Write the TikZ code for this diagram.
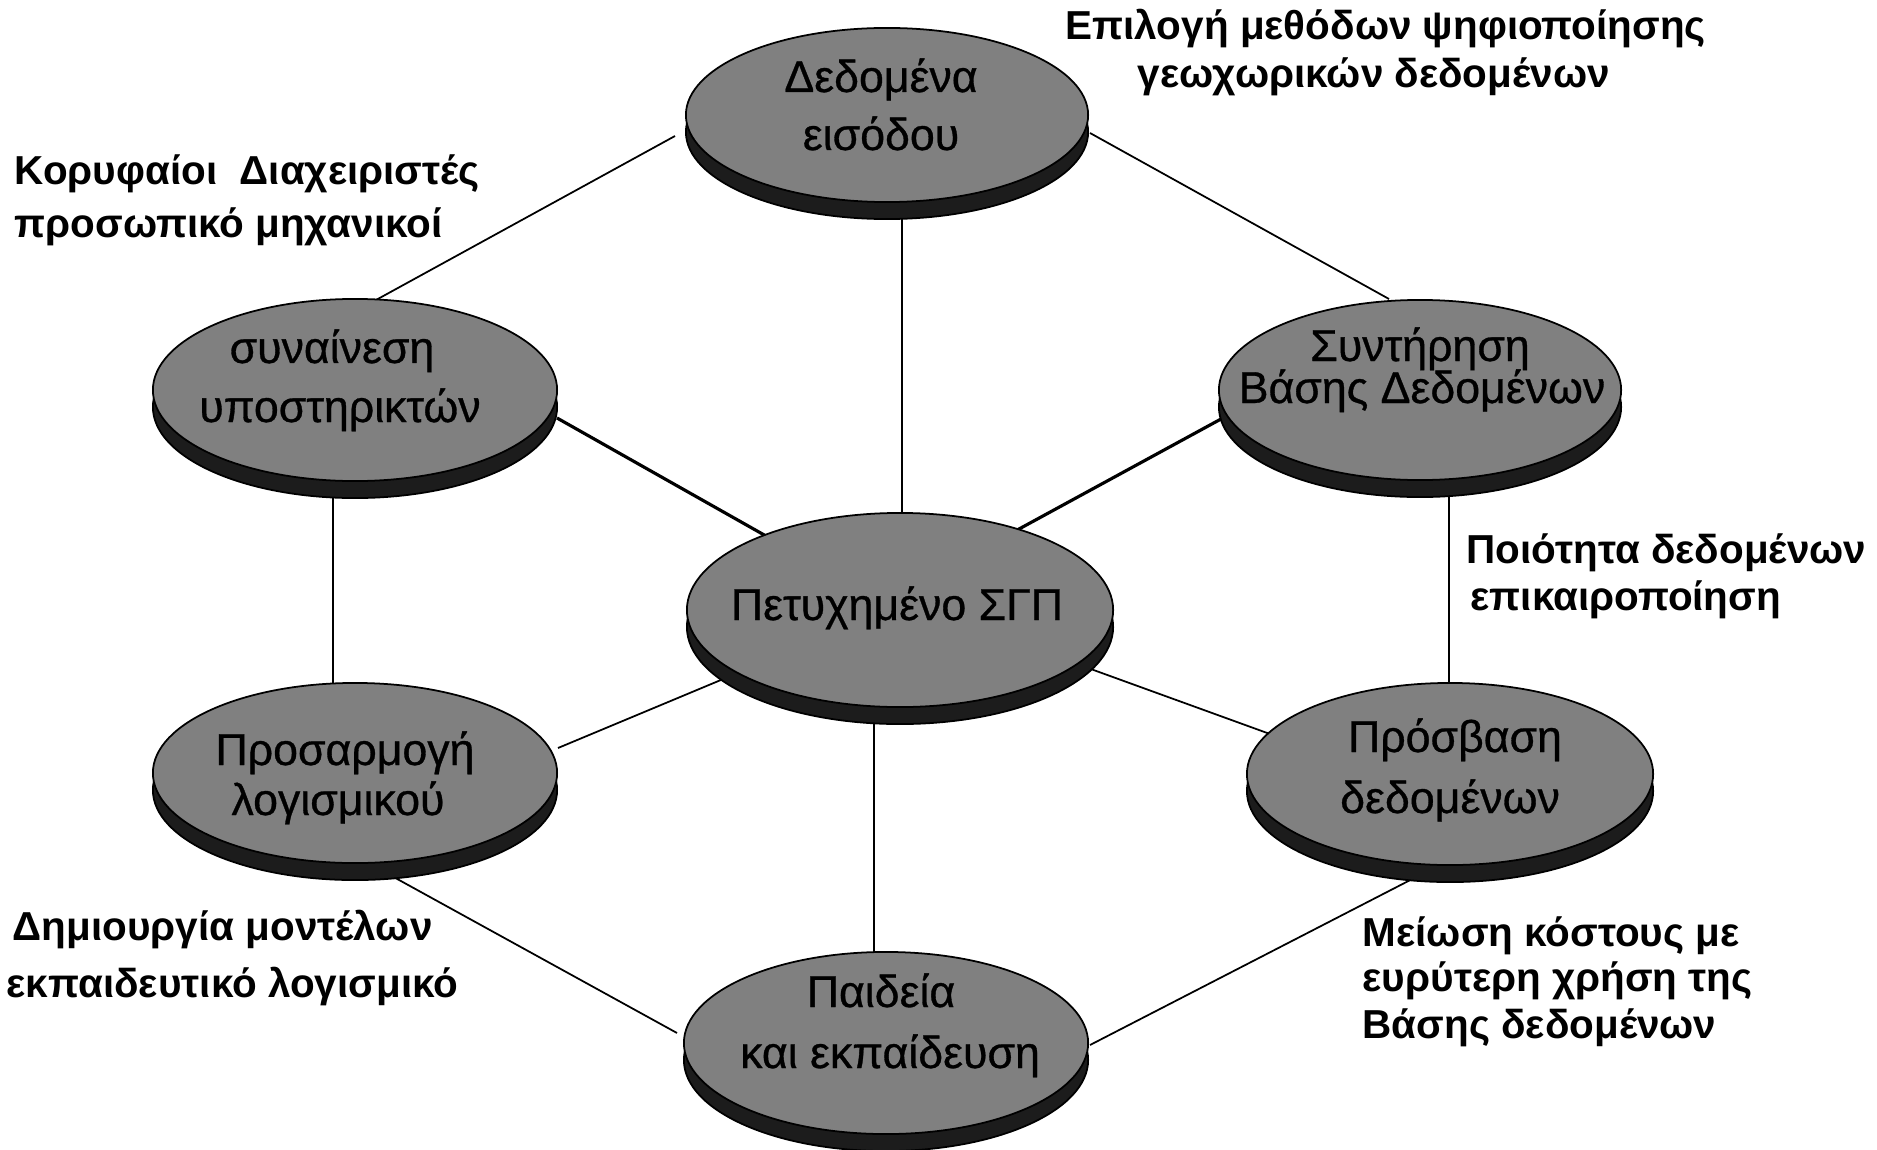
\documentclass[tikz,border=0pt]{standalone}
\usepackage{fontspec}
\setmainfont{Liberation Sans}
\newfontfamily\discfont{Liberation Sans}[FakeBold=0.7]
\usetikzlibrary{shapes.geometric,shadows}
\pgfdeclarelayer{background}
\pgfsetlayers{background,main}
\definecolor{discgrey}{HTML}{808080}
\definecolor{discshade}{HTML}{1C1C1C}
\tikzset{
  disc/.style={ellipse, draw=black, line width=0.5pt, fill=discgrey, inner sep=0pt,
    drop shadow={shadow xshift=0cm, shadow yshift=-0.17cm, fill=discshade, draw=black, opacity=1}},
  disctext/.style={anchor=base, inner sep=0pt, font=\discfont\fontsize{12.7}{15}\selectfont},
  note/.style={anchor=base west, inner sep=0pt, font=\fontsize{11.5}{14}\selectfont\bfseries},
  link/.style={line width=0.5pt},
  thicklink/.style={line width=0.9pt},
}
\begin{document}
\begin{tikzpicture}[x=0.01cm, y=-0.01cm]
\useasboundingbox (0,0) rectangle (1877,1149);

% the seven discs
\node[disc, minimum width=4.02cm, minimum height=1.74cm] (input)  at (887,115)  {};
\node[disc, minimum width=4.04cm, minimum height=1.82cm] (consent) at (355,390) {};
\node[disc, minimum width=4.02cm, minimum height=1.80cm] (maint)  at (1420,390) {};
\node[disc, minimum width=4.26cm, minimum height=1.94cm] (gis)    at (900,610)  {};
\node[disc, minimum width=4.04cm, minimum height=1.80cm] (soft)   at (355,773)  {};
\node[disc, minimum width=4.06cm, minimum height=1.82cm] (access) at (1450,774) {};
\node[disc, minimum width=4.04cm, minimum height=1.82cm] (edu)    at (886,1043) {};

% disc captions
\node[disctext] (input1)   at (881,92)   {Δεδομένα};
\node[disctext] (input2)   at (881,150)  {εισόδου};
\node[disctext] (consent1) at (332,363)  {συναίνεση};
\node[disctext] (consent2) at (340,422)  {υποστηρικτών};
\node[disctext] (maint1)   at (1420,361) {Συντήρηση};
\node[disctext] (maint2)   at (1422,403) {Βάσης Δεδομένων};
\node[disctext] (gis1)     at (897,620)  {Πετυχημένο ΣΓΠ};
\node[disctext] (soft1)    at (345,765)  {Προσαρμογή};
\node[disctext] (soft2)    at (338,815)  {λογισμικού};
\node[disctext] (access1)  at (1455,752) {Πρόσβαση};
\node[disctext] (access2)  at (1450,813) {δεδομένων};
\node[disctext] (edu1)     at (881,1007) {Παιδεία};
\node[disctext] (edu2)     at (890,1068) {και εκπαίδευση};

% side notes
\node[note] (n1a) at (1065,40)  {Επιλογή μεθόδων ψηφιοποίησης};
\node[note] (n1b) at (1137,88)  {γεωχωρικών δεδομένων};
\node[note] (n2a) at (14,185)   {Κορυφαίοι};
\node[note] (n2b) at (239,185)  {Διαχειριστές};
\node[note] (n2c) at (14,238)   {προσωπικό μηχανικοί};
\node[note] (n3a) at (1466,563) {Ποιότητα δεδομένων};
\node[note] (n3b) at (1470,610) {επικαιροποίηση};
\node[note] (n4a) at (12,940)   {Δημιουργία μοντέλων};
\node[note] (n4b) at (6,997)    {εκπαιδευτικό λογισμικό};
\node[note] (n5a) at (1362,946) {Μείωση κόστους με};
\node[note] (n5b) at (1362,991) {ευρύτερη χρήση της};
\node[note] (n5c) at (1362,1038){Βάσης δεδομένων};

% connectors, kept behind the discs
\begin{pgfonlayer}{background}
\fill[white] (0,0) rectangle (1877,1149);
\draw[link] ([shift={(-212,21)}]input.center) -- ([shift={(21,-90)}]consent.center);
\draw[link] ([shift={(203,18)}]input.center) -- ([shift={(-31,-91)}]maint.center);
\draw[link] ([shift={(15,95)}]input.center) -- ([shift={(2,-92)}]gis.center);
\draw[thicklink] ([shift={(202,28)}]consent.center) -- ([shift={(-134,-74)}]gis.center);
\draw[thicklink] ([shift={(-199,29)}]maint.center) -- ([shift={(108,-75)}]gis.center);
\draw[link] ([shift={(-22,95)}]consent.center) -- ([shift={(-22,-83)}]soft.center);
\draw[link] ([shift={(29,95)}]maint.center) -- ([shift={(-1,-84)}]access.center);
\draw[link] ([shift={(-160,62)}]gis.center) -- ([shift={(203,-25)}]soft.center);
\draw[link] ([shift={(188,58)}]gis.center) -- ([shift={(-180,-40)}]access.center);
\draw[link] ([shift={(-26,105)}]gis.center) -- ([shift={(-12,-83)}]edu.center);
\draw[link] ([shift={(35,102)}]soft.center) -- ([shift={(-209,-10)}]edu.center);
\draw[link] ([shift={(-30,101)}]access.center) -- ([shift={(204,2)}]edu.center);
\end{pgfonlayer}
\end{tikzpicture}
\end{document}
